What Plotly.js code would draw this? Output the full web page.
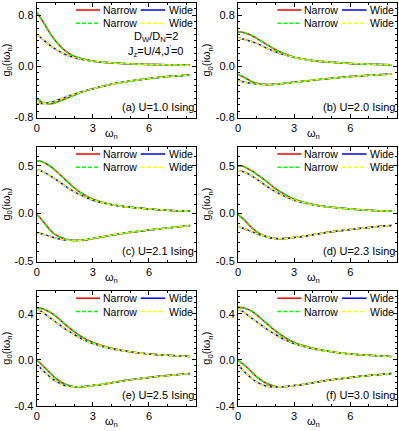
<!DOCTYPE html>
<html><head><meta charset="utf-8">
<script src="https://cdn.plot.ly/plotly-3.0.1.min.js"></script>
<style>html,body{margin:0;padding:0;background:#fff}#chart{width:399px;height:431px}</style>
</head><body><div id="chart"></div>
<script>
// Matsubara frequency grid
const omega = [0, 0.25, 0.5, 0.75, 1, 1.5, 2, 2.5, 3, 4, 5, 6, 7, 8.2];

// (a) U=1.0
const aNarrowUp = [0.85, 0.74, 0.62, 0.50, 0.40, 0.25, 0.16, 0.115, 0.085, 0.055, 0.04, 0.03, 0.024, 0.018];
const aWideUp   = [0.50, 0.44, 0.38, 0.32, 0.27, 0.19, 0.14, 0.105, 0.082, 0.055, 0.04, 0.03, 0.024, 0.018];
const aNarrowLo = [-0.50, -0.555, -0.58, -0.585, -0.57, -0.51, -0.45, -0.395, -0.35, -0.28, -0.23, -0.19, -0.16, -0.135];
const aWideLo   = [-0.56, -0.58, -0.575, -0.56, -0.54, -0.485, -0.435, -0.39, -0.35, -0.28, -0.23, -0.19, -0.16, -0.135];
// (b) U=2.0
const bNarrowUp = [0.54, 0.535, 0.51, 0.48, 0.44, 0.35, 0.26, 0.195, 0.145, 0.092, 0.065, 0.047, 0.035, 0.025];
const bWideUp   = [0.44, 0.43, 0.41, 0.385, 0.36, 0.29, 0.23, 0.18, 0.14, 0.09, 0.065, 0.047, 0.035, 0.025];
const bNarrowLo = [-0.13, -0.16, -0.20, -0.24, -0.265, -0.285, -0.28, -0.265, -0.25, -0.215, -0.185, -0.16, -0.14, -0.12];
const bWideLo   = [-0.23, -0.24, -0.255, -0.265, -0.275, -0.285, -0.28, -0.265, -0.25, -0.215, -0.185, -0.16, -0.14, -0.12];
// (c) U=2.1
const cNarrowUp = [0.55, 0.545, 0.52, 0.49, 0.45, 0.36, 0.27, 0.20, 0.15, 0.095, 0.065, 0.048, 0.035, 0.025];
const cWideUp   = [0.46, 0.445, 0.42, 0.39, 0.36, 0.29, 0.23, 0.18, 0.14, 0.092, 0.065, 0.048, 0.035, 0.025];
const cNarrowLo = [-0.01, -0.06, -0.12, -0.18, -0.22, -0.265, -0.28, -0.275, -0.26, -0.225, -0.195, -0.17, -0.15, -0.125];
const cWideLo   = [-0.20, -0.21, -0.225, -0.24, -0.255, -0.275, -0.28, -0.275, -0.26, -0.225, -0.195, -0.17, -0.15, -0.125];
// (d) U=2.3
const dNarrowUp = [0.50, 0.495, 0.47, 0.445, 0.41, 0.34, 0.26, 0.20, 0.15, 0.095, 0.065, 0.048, 0.035, 0.025];
const dWideUp   = [0.45, 0.44, 0.42, 0.39, 0.36, 0.29, 0.23, 0.18, 0.14, 0.092, 0.065, 0.048, 0.035, 0.025];
const dNarrowLo = [-0.01, -0.05, -0.10, -0.15, -0.19, -0.24, -0.26, -0.26, -0.25, -0.22, -0.19, -0.165, -0.145, -0.125];
const dWideLo   = [-0.14, -0.15, -0.17, -0.19, -0.21, -0.24, -0.26, -0.26, -0.25, -0.22, -0.19, -0.165, -0.145, -0.125];
// (e) U=2.5
const eNarrowUp = [0.45, 0.445, 0.43, 0.41, 0.38, 0.31, 0.245, 0.19, 0.15, 0.10, 0.07, 0.05, 0.038, 0.028];
const eWideUp   = [0.44, 0.42, 0.39, 0.36, 0.33, 0.27, 0.22, 0.175, 0.14, 0.095, 0.068, 0.05, 0.038, 0.028];
const eNarrowLo = [-0.005, -0.04, -0.08, -0.12, -0.16, -0.21, -0.235, -0.235, -0.225, -0.20, -0.175, -0.155, -0.138, -0.12];
const eWideLo   = [-0.04, -0.08, -0.12, -0.155, -0.185, -0.225, -0.235, -0.232, -0.225, -0.20, -0.175, -0.155, -0.138, -0.12];
// (f) U=3.0
const fNarrowUp = [0.455, 0.452, 0.44, 0.42, 0.39, 0.32, 0.25, 0.195, 0.15, 0.10, 0.07, 0.05, 0.038, 0.028];
const fWideUp   = [0.44, 0.42, 0.39, 0.36, 0.33, 0.27, 0.22, 0.175, 0.14, 0.095, 0.068, 0.05, 0.038, 0.028];
const fNarrowLo = [-0.005, -0.035, -0.07, -0.11, -0.15, -0.205, -0.232, -0.235, -0.225, -0.20, -0.175, -0.155, -0.138, -0.12];
const fWideLo   = [-0.04, -0.09, -0.13, -0.165, -0.195, -0.228, -0.238, -0.233, -0.225, -0.20, -0.175, -0.155, -0.138, -0.12];

const panelLabels = ['(a) U=1.0 Ising', '(b) U=2.0 Ising', '(c) U=2.1 Ising', '(d) U=2.3 Ising', '(e) U=2.5 Ising', '(f) U=3.0 Ising'];
const seriesNames = ['Narrow', 'Wide'];
const xTickVals = [0, 3, 6];
const xTickText = ['0', '3', '6'];
const yTickVals = [[-0.8, 0, 0.8], [-0.5, 0, 0.5], [-0.4, 0, 0.4]];
const yTickText = [['-0.8', '0.0', '0.8'], ['-0.5', '0.0', '0.5'], ['-0.4', '0.0', '0.4']];
const yRanges = [[-0.8, 1.0], [-0.5, 0.7], [-0.4, 0.6]];
const yMinor = [0.1, 0.1, 0.05];

const panels = [
  [aNarrowUp, aWideUp, aNarrowLo, aWideLo],
  [bNarrowUp, bWideUp, bNarrowLo, bWideLo],
  [cNarrowUp, cWideUp, cNarrowLo, cWideLo],
  [dNarrowUp, dWideUp, dNarrowLo, dWideLo],
  [eNarrowUp, eWideUp, eNarrowLo, eWideLo],
  [fNarrowUp, fWideUp, fNarrowLo, fWideLo]
];

const W = 399, H = 431;
const colLeft = [36.7, 238], colW = 159;
const rowTop = [2.5, 146.5, 290.7], rowH = 115;
const px = p => p / W;
const py = p => 1 - p / H;
const FONT = 'Liberation Sans, Arial, sans-serif';

const styles = {
  red:    {color: '#ff0000', width: 1.5, dash: 'solid'},
  blue:   {color: '#0000ff', width: 1.5, dash: 'solid'},
  green:  {color: '#00ff00', width: 1.5, dash: '4px,2px'},
  yellow: {color: '#ffff00', width: 1.5, dash: '4px,2px'}
};

const traces = [];
const layout = {
  width: W, height: H, margin: {l: 0, r: 0, t: 0, b: 0},
  paper_bgcolor: '#fff', plot_bgcolor: '#fff', showlegend: false,
  font: {family: FONT, size: 11, color: '#000'},
  annotations: [], shapes: []
};

panels.forEach((p, i) => {
  const row = Math.floor(i / 2), col = i % 2;
  const n = i + 1;
  const xa = n === 1 ? 'x' : 'x' + n, ya = n === 1 ? 'y' : 'y' + n;
  const xk = n === 1 ? 'xaxis' : 'xaxis' + n, yk = n === 1 ? 'yaxis' : 'yaxis' + n;
  const [nUp, wUp, nLo, wLo] = p;
  const add = (y, st, name) => traces.push({x: omega, y: y, xaxis: xa, yaxis: ya, mode: 'lines', name: name,
    line: {color: st.color, width: st.width, dash: st.dash, shape: 'spline', smoothing: 1}});
  add(nUp, styles.red, seriesNames[0]); add(nLo, styles.red, seriesNames[0]);
  add(wUp, styles.blue, seriesNames[1]); add(wLo, styles.blue, seriesNames[1]);
  add(nUp, styles.green, seriesNames[0]); add(nLo, styles.green, seriesNames[0]);
  add(wUp, styles.yellow, seriesNames[1]); add(wLo, styles.yellow, seriesNames[1]);

  const L = colLeft[col], T = rowTop[row], B = T + rowH;
  const axCommon = {showline: true, linecolor: '#000', linewidth: 1, mirror: 'ticks', ticks: 'inside',
    ticklen: 4, tickwidth: 1, tickcolor: '#000', showgrid: false, zeroline: false, automargin: false,
    tickfont: {family: FONT, size: 11, color: '#000'}};
  layout[xk] = Object.assign({}, axCommon, {domain: [px(L), px(L + colW)], range: [0, 8.5], anchor: ya,
    tickvals: xTickVals, ticktext: xTickText,
    minor: {ticks: 'inside', ticklen: 2, dtick: 1, tick0: 0, tickcolor: '#000', tickwidth: 1}});
  layout[yk] = Object.assign({}, axCommon, {domain: [py(B), py(T)], range: yRanges[row], anchor: xa,
    tickvals: yTickVals[row], ticktext: yTickText[row],
    title: {text: 'g<sub>0</sub>(iω<sub>n</sub>)', standoff: 2, font: {family: FONT, size: 11, color: '#000'}},
    minor: {ticks: 'inside', ticklen: 2, dtick: yMinor[row], tick0: 0, tickcolor: '#000', tickwidth: 1}});

  // x-axis title placed close under the tick labels, as in the reference
  layout.annotations.push({xref: 'paper', yref: 'paper', x: px(L + 75), y: py(B + 16), xanchor: 'center', yanchor: 'middle',
    text: 'ω<sub>n</sub>', showarrow: false, borderpad: 0, font: {family: FONT, size: 11, color: '#000'}});

  // legend block
  const legRows = [[styles.red, styles.blue], [styles.green, styles.yellow]];
  const legY = [7.5, 20.8];
  legRows.forEach((pair, r) => {
    const yy = py(T + legY[r]);
    [[39.3, 63.3, 66], [104, 128.5, 132]].forEach((pos, k) => {
      const st = pair[k];
      layout.shapes.push({type: 'line', xref: 'paper', yref: 'paper', x0: px(L + pos[0]), x1: px(L + pos[1]), y0: yy, y1: yy,
        line: {color: st.color, width: st.width, dash: st.dash}});
      layout.annotations.push({xref: 'paper', yref: 'paper', x: px(L + pos[2]), y: yy, xanchor: 'left', yanchor: 'middle',
        text: seriesNames[k], showarrow: false, borderpad: 0, borderwidth: 0, font: {family: FONT, size: 10.5, color: '#000'}});
    });
  });

  // panel label
  layout.annotations.push({xref: 'paper', yref: 'paper', x: px(L + 157), y: py(B - 11), xanchor: 'right', yanchor: 'middle',
    text: panelLabels[i], showarrow: false, borderpad: 0, borderwidth: 0, font: {family: FONT, size: 11, color: '#000'}});

  if (i === 0) {
    layout.annotations.push({xref: 'paper', yref: 'paper', x: px(L + 119), y: py(T + 34), xanchor: 'center', yanchor: 'middle',
      text: 'D<sub>W</sub>/D<sub>N</sub>=2', showarrow: false, font: {family: FONT, size: 11, color: '#000'}});
    layout.annotations.push({xref: 'paper', yref: 'paper', x: px(L + 119), y: py(T + 48.5), xanchor: 'center', yanchor: 'middle',
      text: 'J<sub>z</sub>=U/4,J<sup>\'</sup>=0', showarrow: false, font: {family: FONT, size: 11, color: '#000'}});
  }
});

Plotly.newPlot('chart', traces, layout, {displayModeBar: false});
</script></body></html>
